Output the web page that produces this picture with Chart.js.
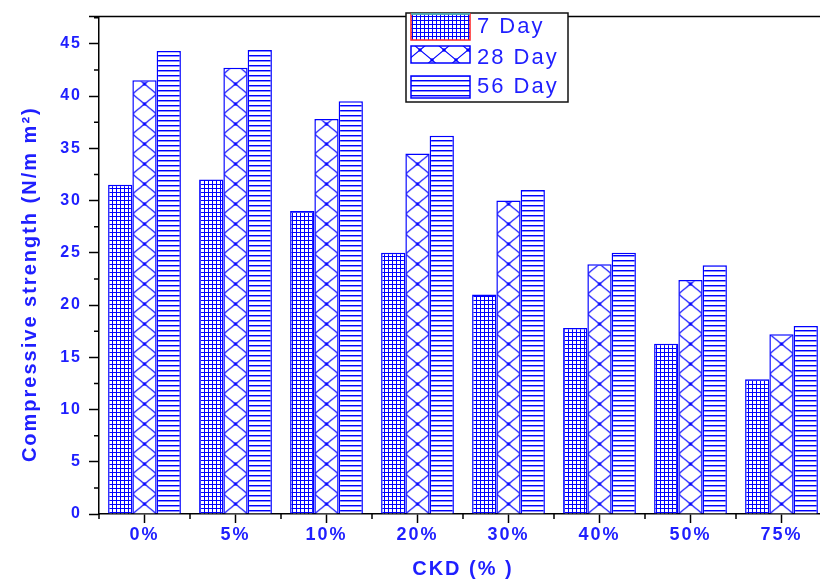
<!DOCTYPE html>
<html>
<head>
<meta charset="utf-8">
<script src="https://cdn.jsdelivr.net/npm/chart.js@4.4.1/dist/chart.umd.min.js"></script>
<style>
  html, body { margin: 0; padding: 0; background: #fff; overflow: hidden; width: 820px; height: 581px; }
</style>
</head>
<body>
<canvas id="chart" width="830" height="581"></canvas>
<script>
const categories = ['0%', '5%', '10%', '20%', '30%', '40%', '50%', '75%'];
const day7  = [31.5, 32.0, 29.0, 25.0, 21.0, 17.8, 16.3, 12.9];
const day28 = [41.5, 42.7, 37.8, 34.5, 30.0, 23.9, 22.4, 17.2];
const day56 = [44.3, 44.4, 39.5, 36.2, 31.0, 25.0, 23.8, 18.0];
const seriesNames = ['7 Day', '28 Day', '56 Day'];

const BLUE = '#0000ff';
const TEXT = '#1f1fff';
const FONT = 'Arial, "Liberation Sans", sans-serif';

// hatch tiles
function tile(w, h, draw) {
  const c = document.createElement('canvas');
  c.width = w; c.height = h;
  const g = c.getContext('2d');
  g.fillStyle = '#fff';
  g.fillRect(0, 0, w, h);
  draw(g, w, h);
  return c;
}
const gridTile = tile(4, 4, g => {
  g.fillStyle = BLUE;
  g.fillRect(0, 0, 4, 1);
  g.fillRect(0, 0, 1, 4);
});
const lineTile = tile(8, 5, g => {
  g.fillStyle = BLUE;
  g.fillRect(0, 0, 8, 1);
  g.fillStyle = 'rgba(0,0,255,0.45)';
  g.fillRect(0, 1, 8, 1);
});
const diamondTile = tile(24, 20, (g, w, h) => {
  g.strokeStyle = BLUE;
  g.lineWidth = 1.1;
  g.beginPath();
  g.moveTo(0, 0); g.lineTo(w, h);
  g.moveTo(w, 0); g.lineTo(0, h);
  g.stroke();
  g.fillStyle = BLUE;
  [[w / 2, h / 2], [0, 0], [w, 0], [0, h], [w, h]].forEach(([x, y]) => {
    g.beginPath(); g.arc(x, y, 1.7, 0, Math.PI * 2); g.fill();
  });
});

const cv = document.getElementById('chart');
const plain = t => cv.getContext('2d').createPattern(t, 'repeat');

// diamonds lined up with each bar's edges
function barPattern(t) {
  return c => {
    const chart = c.chart;
    const x = chart.scales && chart.scales.x;
    if (c.dataIndex === undefined || !x) return plain(t);
    const cw = x.width / categories.length;
    const bw = cw * 0.8 / 3;
    const left = x.getPixelForValue(c.dataIndex) - cw * 0.4 + c.datasetIndex * bw;
    const p = chart.ctx.createPattern(t, 'repeat');
    p.setTransform(new DOMMatrix().translate(left, 14).scale(bw / t.width, 1));
    return p;
  };
}

const extras = {
  id: 'extras',
  beforeDraw(chart) {
    chart.ctx.letterSpacing = '2px';
  },
  afterDraw(chart) {
    const { ctx, chartArea: a, scales: { x, y } } = chart;
    ctx.save();
    ctx.strokeStyle = '#000';
    ctx.lineWidth = 1.5;
    ctx.beginPath();
    ctx.moveTo(a.left - 10, a.top);
    ctx.lineTo(chart.width, a.top);
    for (let v = 2.5; v < y.max; v += 5) {
      const py = y.getPixelForValue(v);
      ctx.moveTo(a.left - 5, py); ctx.lineTo(a.left, py);
    }
    for (let i = 0; i <= categories.length; i++) {
      const px = x.getPixelForValue(i - 0.5);
      ctx.moveTo(px, a.bottom); ctx.lineTo(px, a.bottom + 5);
    }
    ctx.stroke();

    // legend
    ctx.fillStyle = '#fff';
    ctx.fillRect(406, 13, 162, 89);
    ctx.strokeStyle = '#111';
    ctx.strokeRect(406, 13, 162, 89);
    const tiles = [gridTile, diamondTile, lineTile];
    const rows = [[14, 26], [46, 17], [76, 22]];
    const mids = [27, 58, 87];
    rows.forEach(([top, h], i) => {
      ctx.fillStyle = plain(tiles[i]);
      ctx.fillRect(411, top, 59, h);
      ctx.strokeStyle = i === 0 ? '#ff2020' : BLUE;
      ctx.strokeRect(411, top, 59, h);
      if (i === 0) {
        ctx.strokeStyle = '#20d0d0';
        ctx.beginPath(); ctx.moveTo(411, top); ctx.lineTo(470, top); ctx.stroke();
      }
      ctx.fillStyle = TEXT;
      ctx.font = '22px ' + FONT;
      ctx.letterSpacing = '2px';
      ctx.textBaseline = 'middle';
      ctx.fillText(seriesNames[i], 477, mids[i]);
    });
    ctx.restore();
  }
};

new Chart(cv, {
  type: 'bar',
  data: {
    labels: categories,
    datasets: [
      { label: seriesNames[0], data: day7,  backgroundColor: plain(gridTile) },
      { label: seriesNames[1], data: day28, backgroundColor: barPattern(diamondTile) },
      { label: seriesNames[2], data: day56, backgroundColor: plain(lineTile) }
    ]
  },
  options: {
    responsive: false,
    devicePixelRatio: 1,
    animation: false,
    layout: { padding: { top: 14, right: 3, left: 0, bottom: 0 } },
    datasets: {
      bar: {
        categoryPercentage: 0.8,
        barPercentage: 1,
        borderColor: BLUE,
        borderWidth: 1.5
      }
    },
    plugins: { legend: { display: false }, tooltip: { enabled: false } },
    scales: {
      x: {
        afterFit: s => { s.height = 67; },
        grid: { offset: false, drawOnChartArea: false, tickLength: 9, tickColor: '#000', tickWidth: 1.5 },
        border: { color: '#000', width: 1.5 },
        ticks: { color: TEXT, font: { family: FONT, size: 18, weight: 'bold' }, padding: 1, maxRotation: 0 },
        title: { display: true, text: 'CKD (% )', color: TEXT, font: { family: FONT, size: 20, weight: 'bold' }, padding: 0 }
      },
      y: {
        min: 0,
        max: 47.6,
        afterFit: s => { s.width = 99; },
        afterBuildTicks: s => { s.ticks = s.ticks.filter(t => t.value % 5 === 0); },
        grid: { drawOnChartArea: false, tickLength: 10, tickColor: '#000', tickWidth: 1.5 },
        border: { color: '#000', width: 1.5 },
        ticks: { stepSize: 5, color: TEXT, font: { family: FONT, size: 16, weight: 'bold' }, padding: 7 },
        title: { display: true, text: 'Compressive strength (N/m m²)     ', color: TEXT, font: { family: FONT, size: 20, weight: 'bold' }, padding: { top: 18, bottom: 0 } }
      }
    }
  },
  plugins: [extras]
});
</script>
</body>
</html>
